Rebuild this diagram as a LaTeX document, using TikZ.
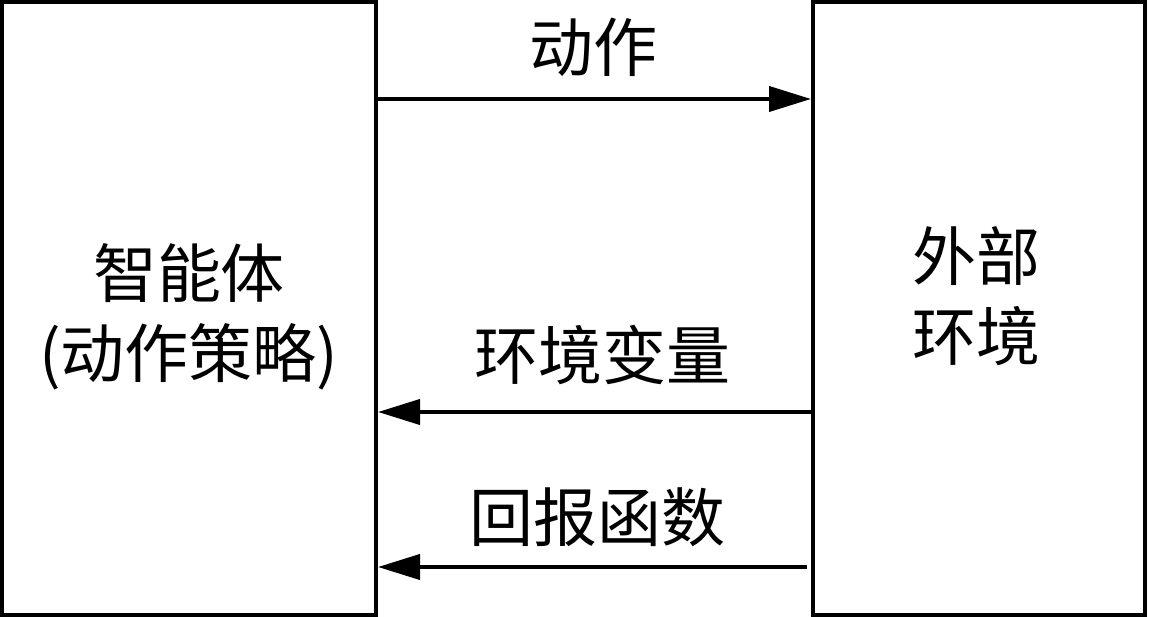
\documentclass[tikz,border=0pt]{standalone}
\usepackage{fontspec}
\setmainfont{Noto Sans CJK SC}
\usetikzlibrary{arrows.meta}
\begin{document}
\begin{tikzpicture}[x=1pt,y=-1pt,
  box/.style={draw, line width=4pt, inner sep=0pt, minimum height=613pt},
  lbl/.style={font=\fontsize{64}{80}\selectfont, inner sep=0pt, align=center},
  arr/.style={line width=4pt, -{Triangle[length=42pt,width=25pt]}}]
\useasboundingbox (0,0) rectangle (1149,617);
\node[box, minimum width=374pt] (agent) at (189,308.5) {};
\node[box, minimum width=332pt] (env) at (979,308.5) {};
\node[lbl] (agenttext) at (189,317) {智能体\\(动作策略)};
\node[lbl] (envtext) at (976,296.5) {外部\\环境};
\node[lbl] (act) at (593,47.5) {动作};
\node[lbl] (state) at (602,355) {环境变量};
\node[lbl] (reward) at (597,517) {回报函数};
\draw[arr] (agent.east |- 0,99) -- (env.west |- 0,99);
\draw[arr] (env.west |- 0,412) -- (agent.east |- 0,412);
\draw[arr] ([xshift=-4pt]env.west |- 0,567) -- (agent.east |- 0,567);
\end{tikzpicture}
\end{document}
